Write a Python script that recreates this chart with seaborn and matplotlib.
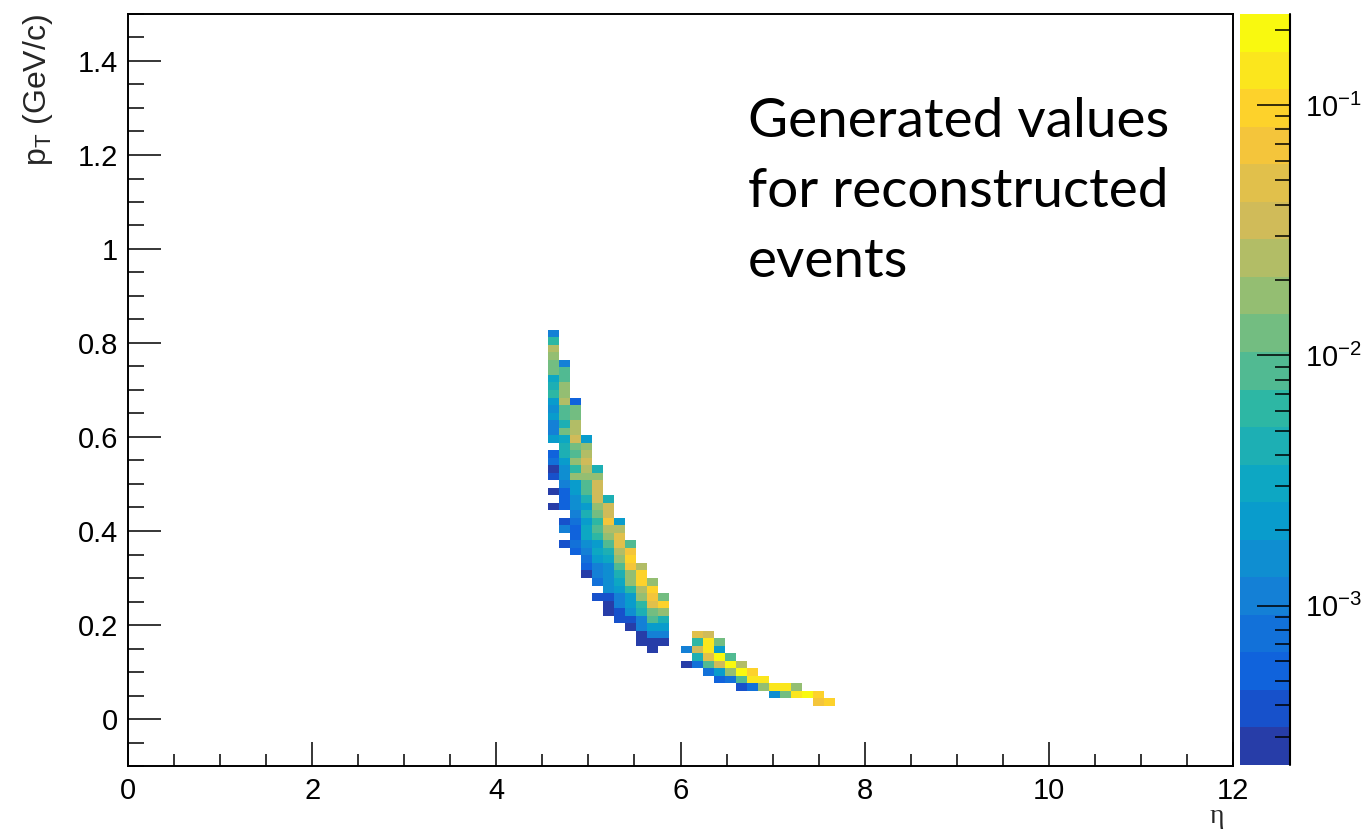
import numpy as np
import pandas as pd
import matplotlib
matplotlib.use("Agg")
import matplotlib.pyplot as plt
import seaborn as sns
from matplotlib.colors import LogNorm, ListedColormap, LinearSegmentedColormap
from matplotlib.ticker import (MultipleLocator, LogLocator, LogFormatterSciNotation,
                               NullFormatter, FuncFormatter)

# ---------------- histogram definition (TH2: 100 x 100 bins) ----------------
ETA_RANGE = (0.0, 12.0)
PT_RANGE = (-0.1, 1.5)
N_ETA = 100
N_PT = 100

# ---------------- bin contents ----------------
# each row: pT bin index, first eta bin index, contents of consecutive eta bins
# (None = empty bin(s))
pt_bin = [57, 56, 55, 54, 53, 52, 51, 50, 49, 48, 47, 46, 45, 44, 43, 42, 41, 40,
          39, 38, 37, 36, 35, 34, 33, 32, 31, 30, 29, 28, 27, 26, 25, 24, 23, 22,
          21, 20, 19, 18, 17, 16, 15, 14, 13, 12, 11, 10, 9, 8]
eta_first = [38, 38, 38, 38, 38, 38, 38, 38, 38, 38, 38, 38, 38, 38, 38, 39, 38, 38,
             38, 38, 39, 38, 39, 38, 40, 39, 39, 40, 39, 40, 41, 41, 41, 42, 43, 42,
             43, 43, 44, 45, 46, 46, 47, 51, 50, 52, 53, 55, 58, 62]
contents = [
    [1.1e-3],
    [6.1e-3],
    [2.4e-2],
    [1.7e-2],
    [1.2e-2, 1.1e-3],
    [1.2e-2, 8.7e-3],
    [3.1e-3, 8.7e-3],
    [4.4e-3, 1.7e-2],
    [6.1e-3, 1.7e-2],
    [2.2e-3, 2.4e-2, 5.5e-4],
    [1.5e-3, 8.7e-3, 1.2e-2],
    [2.2e-3, 8.7e-3, 1.2e-2],
    [1.1e-3, 4.4e-3, 2.4e-2],
    [1.1e-3, 1.2e-2, 2.4e-2],
    [2.2e-3, 3.1e-3, 3.5e-2, 2.2e-3],
    [4.4e-3, 1.2e-2, 1.7e-2],
    [5.5e-4, 4.4e-3, 8.7e-3, 2.4e-2],
    [7.7e-4, 2.2e-3, 1.7e-2, 3.5e-2],
    [2.7e-4, 1.5e-3, 6.1e-3, 2.4e-2, 4.4e-3],
    [3.9e-4, 1.5e-3, 1.7e-2, 1.7e-2, 1.7e-2],
    [1.1e-3, 2.2e-3, 8.7e-3, 3.5e-2],
    [2.7e-4, 5.5e-4, 2.2e-3, 8.7e-3, 3.5e-2],
    [5.5e-4, 1.5e-3, 4.4e-3, 3.5e-2, 4.4e-3],
    [2.7e-4, 5.5e-4, 1.5e-3, 2.2e-3, 1.7e-2, 3.5e-2],
    [1.1e-3, 4.4e-3, 1.2e-2, 3.5e-2],
    [3.9e-4, 7.7e-4, 2.2e-3, 6.1e-3, 6.9e-2, 2.2e-3],
    [1.1e-3, 5.5e-4, 3.1e-3, 8.7e-3, 2.4e-2, 2.4e-2],
    [5.5e-4, 3.1e-3, 6.1e-3, 1.7e-2, 4.9e-2],
    [3.9e-4, 7.7e-4, 1.5e-3, 2.2e-3, 8.7e-3, 4.9e-2, 8.7e-3],
    [5.5e-4, 1.1e-3, 3.1e-3, 4.4e-3, 2.4e-2, 6.9e-2],
    [7.7e-4, 2.2e-3, 3.1e-3, 1.7e-2, 9.7e-2],
    [5.5e-4, 1.1e-3, 1.5e-3, 8.7e-3, 6.9e-2, 2.4e-2],
    [2.7e-4, 1.1e-3, 1.5e-3, 4.4e-3, 1.7e-2, 9.7e-2],
    [7.7e-4, 1.5e-3, 3.1e-3, 1.7e-2, 9.7e-2, 1.7e-2],
    [1.5e-3, 2.2e-3, 6.1e-3, 2.4e-2, 9.7e-2],
    [3.9e-4, 3.9e-4, 1.1e-3, 2.2e-3, 1.7e-2, 6.9e-2, 1.2e-2],
    [2.7e-4, 1.1e-3, 2.2e-3, 6.1e-3, 4.9e-2, 9.7e-2],
    [2.7e-4, 3.9e-4, 1.5e-3, 4.4e-3, 1.2e-2, 1.7e-2],
    [3.9e-4, 3.9e-4, 1.1e-3, 8.7e-3, 4.4e-3],
    [2.7e-4, 1.1e-3, 2.2e-3, 2.2e-3],
    [2.7e-4, 1.1e-3, 1.1e-3, None, 4.9e-2, 3.5e-2],
    [2.7e-4, 2.7e-4, 2.7e-4, None, 6.1e-3, 0.14, 1.2e-2],
    [2.7e-4, None, None, 1.1e-3, 3.5e-2, 0.14, 2.2e-3],
    [4.4e-3, 4.9e-2, 0.19, 8.7e-3],
    [2.7e-4, 7.7e-4, 8.7e-3, 3.5e-2, 0.19, 2.4e-2],
    [7.7e-4, 2.2e-3, 1.7e-2, 0.19, 9.7e-2],
    [5.5e-4, 7.7e-4, 8.7e-3, 0.14, 0.14],
    [3.9e-4, 7.7e-4, 1.7e-2, 0.14, 0.14, 1.7e-2],
    [1.5e-3, 1.2e-2, 0.14, 0.231, 9.7e-2],
    [6.9e-2, 9.7e-2],
]
# rows whose None stands for more than one empty eta bin: row -> {position: n empty}
gap_rows = {17: {3: 2}, 16: {3: 2}}

# colour palette (ROOT kBird) and number of colour contours
N_CONTOURS = 20
bird_stops = [0.0000, 0.1250, 0.2500, 0.3750, 0.5000, 0.6250, 0.7500, 0.8750, 1.0000]
bird_red = [0.2082, 0.0592, 0.0780, 0.0232, 0.1802, 0.5301, 0.8186, 0.9956, 0.9764]
bird_green = [0.1664, 0.3599, 0.5041, 0.6419, 0.7178, 0.7492, 0.7328, 0.7862, 0.9832]
bird_blue = [0.5293, 0.8684, 0.8385, 0.7914, 0.6425, 0.4662, 0.3499, 0.1968, 0.0539]

text_lines = ["Generated values", "for reconstructed", "events"]

# ---------------- build long table of filled bins ----------------
eta_w = (ETA_RANGE[1] - ETA_RANGE[0]) / N_ETA
pt_w = (PT_RANGE[1] - PT_RANGE[0]) / N_PT
records = []
for j, first, vals in zip(pt_bin, eta_first, contents):
    col = first
    for k, v in enumerate(vals):
        if v is None:
            col += gap_rows.get(j, {}).get(k, 1)
            continue
        records.append((ETA_RANGE[0] + (col + 0.5) * eta_w,
                        PT_RANGE[0] + (j + 0.5) * pt_w, v))
        col += 1
df = pd.DataFrame(records, columns=["eta", "pt", "w"])

# ---------------- style ----------------
sns.set_style("ticks")
plt.rcParams["font.family"] = ["Liberation Sans", "DejaVu Sans"]
plt.rcParams["mathtext.default"] = "regular"
plt.rcParams["axes.axisbelow"] = False

bird = LinearSegmentedColormap.from_list(
    "bird", [(s, (r, g, b)) for s, r, g, b in zip(bird_stops, bird_red, bird_green, bird_blue)])
band_pos = [int((k + 0.99) * 255 / N_CONTOURS) / 255 for k in range(N_CONTOURS)]
cmap = ListedColormap([bird(p) for p in band_pos])

z_max = df["w"].max()
norm = LogNorm(vmin=z_max * 1e-3, vmax=z_max)

W, H = 1366, 830
fig = plt.figure(figsize=(W / 100, H / 100), dpi=100)
ax = fig.add_axes([128 / W, 64 / H, 1105 / W, 752 / H])
cax = fig.add_axes([1240 / W, 65 / H, 50 / W, 751 / H])

sns.histplot(data=df, x="eta", y="pt", weights="w",
             bins=(N_ETA, N_PT), binrange=(ETA_RANGE, PT_RANGE),
             cmap=cmap, norm=norm, vmin=None, vmax=None,
             cbar=True, cbar_ax=cax, ax=ax)

# ---------------- main axes ----------------
ax.set_xlim(*ETA_RANGE)
ax.set_ylim(*PT_RANGE)
ax.xaxis.set_major_locator(MultipleLocator(2))
ax.xaxis.set_minor_locator(MultipleLocator(0.5))
ax.yaxis.set_major_locator(MultipleLocator(0.2))
ax.yaxis.set_minor_locator(MultipleLocator(0.05))
fmt = FuncFormatter(lambda v, p: "%g" % round(v, 6))
ax.xaxis.set_major_formatter(fmt)
ax.yaxis.set_major_formatter(fmt)
ax.tick_params(which="both", direction="in", top=False, right=False,
               bottom=True, left=True, colors="black")
ax.tick_params(axis="x", which="major", length=17.5, width=1.1, labelsize=21, pad=8)
ax.tick_params(axis="x", which="minor", length=8.5, width=1.1)
ax.tick_params(axis="y", which="major", length=23.5, width=1.1, labelsize=21, pad=7)
ax.tick_params(axis="y", which="minor", length=11.5, width=1.1)
for s in ax.spines.values():
    s.set_visible(True)
    s.set_color("black")
    s.set_linewidth(1.4)

ax.set_xlabel("η", fontsize=20, family=["Liberation Serif", "DejaVu Serif"], loc="right")
ax.xaxis.set_label_coords(0.992, -0.051)
ax.set_ylabel(r"p$_{T}$ (GeV/c)", fontsize=23, loc="top")
ax.yaxis.set_label_coords(-0.066, 1.0)

# ---------------- colour bar ----------------
cbar = ax.collections[0].colorbar
cbar.outline.set_visible(False)
cax.yaxis.set_major_locator(LogLocator(base=10, numticks=10))
cax.yaxis.set_minor_locator(LogLocator(base=10, subs=np.arange(2, 10) * 1.0, numticks=30))
cax.yaxis.set_major_formatter(LogFormatterSciNotation())
cax.yaxis.set_minor_formatter(NullFormatter())
cax.set_axisbelow(False)
cax.tick_params(axis="y", which="both", direction="in", right=True, left=False,
                labelright=True, labelleft=False, colors="black")
cax.tick_params(axis="y", which="major", length=24, width=1.1, labelsize=21, pad=11)
cax.tick_params(axis="y", which="minor", length=11, width=1.1)
cax.plot([1, 1], [0, 1], transform=cax.transAxes, color="black", lw=1.5, clip_on=False)

# ---------------- annotation ----------------
for line, yb in zip(text_lines, [137, 207, 277]):
    fig.text(748 / W, 1 - yb / H, line, fontsize=39.5, family=["Lato", "DejaVu Sans"],
             ha="left", va="baseline", color="black")

fig.savefig("out.png", dpi=100, facecolor="white")
